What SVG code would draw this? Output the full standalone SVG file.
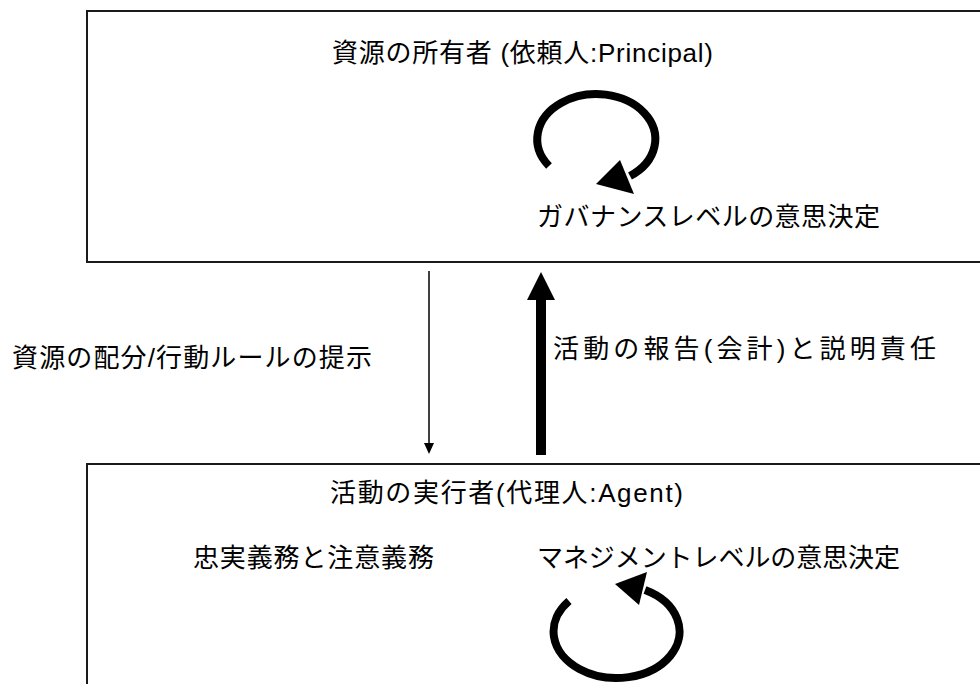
<svg xmlns="http://www.w3.org/2000/svg" width="980" height="684" viewBox="0 0 980 684">
<style>
.box{fill:#fff;stroke:#1a1a1a;stroke-width:2}
.t{font-family:"Liberation Sans","Noto Sans CJK JP",sans-serif;font-size:26px;fill:#000}
.arc{fill:none;stroke:#000;stroke-width:8}
</style>
<rect width="980" height="684" fill="#fff"/>
<g id="principal">
<rect class="box" x="87" y="11" width="920" height="251"/>
<text class="t" x="332" y="62" textLength="381">資源の所有者 (依頼人:Principal)</text>
<path class="arc" d="M549,166 A59,45 0 1 1 630,176"/>
<polygon points="596,184 620,160 634,194"/>
<text class="t" x="537" y="226" textLength="343">ガバナンスレベルの意思決定</text>
</g>
<g id="agent">
<rect class="box" x="87" y="464" width="920" height="240"/>
<text class="t" x="330" y="502" textLength="353">活動の実行者(代理人:Agent)</text>
<text class="t" x="193" y="567" textLength="241">忠実義務と注意義務</text>
<text class="t" x="537" y="567" textLength="363">マネジメントレベルの意思決定</text>
<path class="arc" d="M569,601 A63,46.5 0 1 0 645,590"/>
<polygon points="615,584 647,572 639,605"/>
</g>
<g id="connectors">
<line x1="429" y1="271" x2="429" y2="444" stroke="#000" stroke-width="1.5"/>
<polygon points="424,443 434,443 429,454"/>
<rect x="536" y="298" width="10" height="157"/>
<polygon points="541,272 527,300 555,300"/>
<text class="t" x="12" y="367" textLength="360">資源の配分/行動ルールの提示</text>
<text class="t" x="553" y="358" textLength="383">活動の報告(会計)と説明責任</text>
</g>
</svg>
